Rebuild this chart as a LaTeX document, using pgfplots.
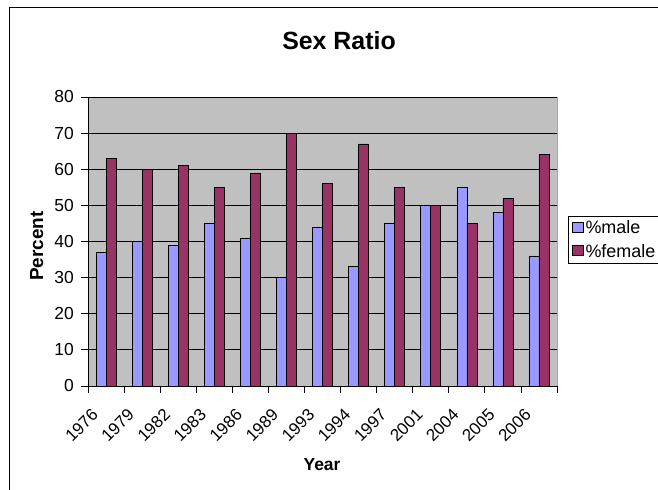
\documentclass[border=0pt]{standalone}
\usepackage{fontspec}
\setmainfont{Liberation Sans}
\usepackage{pgfplots}
\pgfplotsset{compat=1.18}
\definecolor{male}{HTML}{9999FF}
\definecolor{female}{HTML}{993366}
\definecolor{plotbg}{HTML}{C0C0C0}
\begin{document}
\begin{tikzpicture}[x=1bp,y=1bp]
\path[use as bounding box] (0,0) rectangle (658,490);
\clip (0,0) rectangle (658,490);
\fill[white] (0,0) rectangle (658,490);
\draw[black, line width=1bp] (9,482) rectangle (720,-30);
\node[font=\fontsize{25}{30}\selectfont\bfseries, anchor=base, inner sep=0pt] at (339,440.5) {Sex Ratio};
\node[font=\fontsize{19}{23}\selectfont\bfseries, rotate=90, anchor=base, inner sep=0pt] at (43,244) {Percent};
\node[font=\fontsize{17.5}{21}\selectfont\bfseries, anchor=base, inner sep=0pt] at (322,19) {Year};
\begin{axis}[
  at={(88bp,104bp)}, anchor=south west,
  scale only axis, width=469bp, height=289bp,
  xmin=-0.5, xmax=12.5, ymin=0, ymax=80,
  ybar=0pt, bar width=10bp,
  axis background/.style={fill=plotbg, draw=gray!70},
  axis x line*=bottom, axis y line*=left,
  axis line style={black, line width=0.8bp, -},
  ytick={0,10,...,80},
  minor ytick={0,10,...,80},
  ymajorgrids, grid style={black, line width=0.8bp},
  xtick={0,...,12},
  xticklabels={1976,1979,1982,1983,1986,1989,1993,1994,1997,2001,2004,2005,2006},
  minor xtick={-0.5,0.5,...,12.5},
  tick align=outside,
  major tick length=0pt, minor tick length=7bp,
  minor tick style={black, line width=0.8bp},
  xticklabel style={font=\fontsize{17}{20}\selectfont, inner sep=0pt, xshift=-11bp, yshift=-26bp, rotate=45, anchor=east},
  yticklabel style={font=\fontsize{17.5}{20}\selectfont, inner sep=0pt, xshift=-14bp, anchor=east},
  /pgf/number format/assume math mode=true,
  legend style={at={(1.0235,0.588)}, anchor=north west, draw=black, line width=0.8bp,
    font=\fontsize{18}{21}\selectfont, inner xsep=4bp, inner ysep=3bp, row sep=6bp,
    nodes={inner sep=1.5bp}},
  legend cell align=left,
  legend image code/.code={\draw[#1, line width=0.6bp] (0bp,-4bp) rectangle (11bp,6bp);},
]
\addplot[fill=male, draw=black, line width=0.6bp] coordinates {
(0,37) (1,40) (2,39) (3,45) (4,41) (5,30) (6,44) (7,33) (8,45) (9,50) (10,55) (11,48) (12,36)};
\addplot[fill=female, draw=black, line width=0.6bp] coordinates {
(0,63) (1,60) (2,61) (3,55) (4,59) (5,70) (6,56) (7,67) (8,55) (9,50) (10,45) (11,52) (12,64)};
\legend{\%male,\%female}
\end{axis}
\end{tikzpicture}
\end{document}
